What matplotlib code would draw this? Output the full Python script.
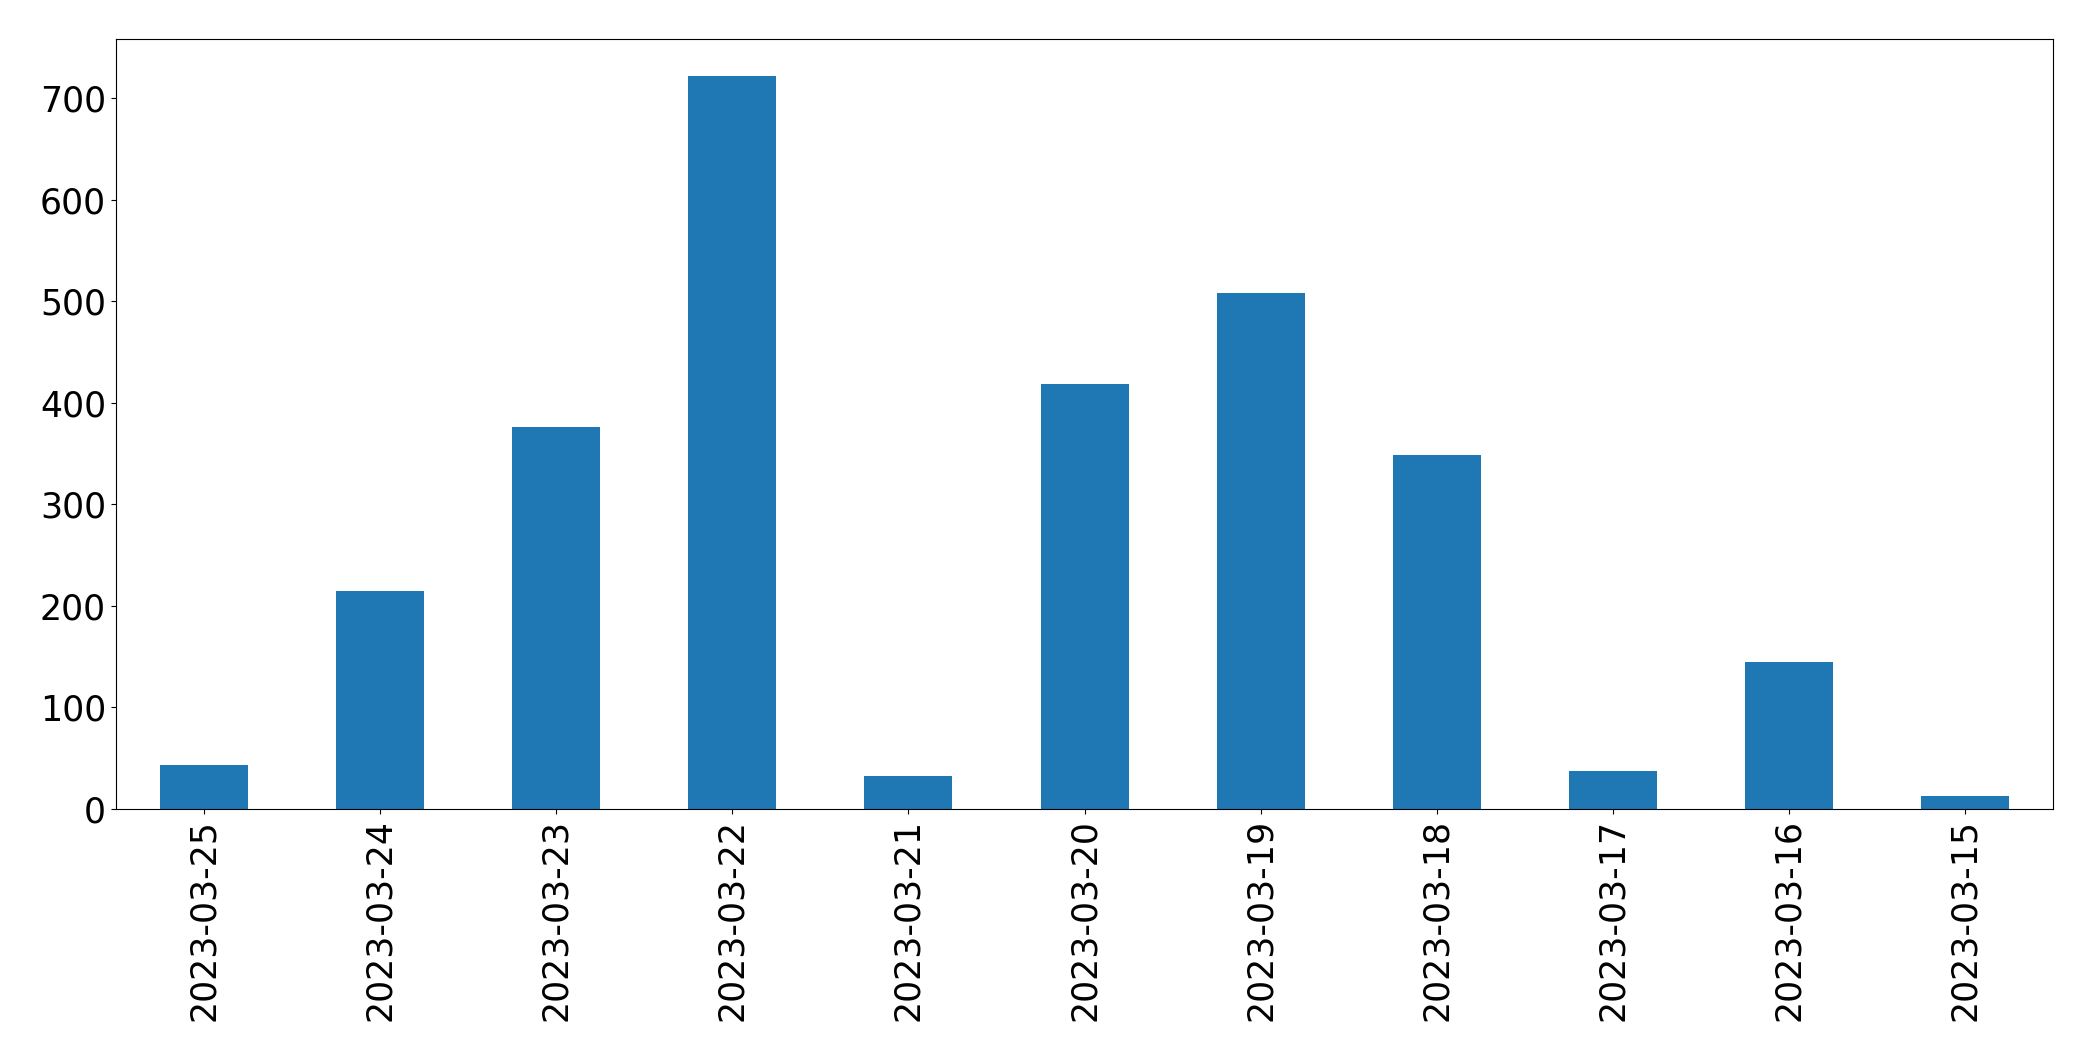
import matplotlib
matplotlib.use('Agg')
import matplotlib.pyplot as plt

# daily counts, newest first (as in the reference)
dates = ['2023-03-25', '2023-03-24', '2023-03-23', '2023-03-22', '2023-03-21',
         '2023-03-20', '2023-03-19', '2023-03-18', '2023-03-17', '2023-03-16',
         '2023-03-15']
counts = [43, 215, 376, 722, 33, 419, 508, 349, 37, 145, 13]

fig = plt.figure(figsize=(20.93, 10.61), dpi=100)
ax = fig.add_axes([0.0553, 0.2375, 0.9258, 0.7255])

x = range(len(dates))
ax.bar(x, counts, width=0.5, color='#1f77b4')
ax.set_xlim(-0.5, len(dates) - 0.5)
ax.set_xticks(list(x))
ax.set_xticklabels(dates, rotation=90)
ax.tick_params(axis='both', labelsize=25)

fig.savefig('out.png', dpi=100)
